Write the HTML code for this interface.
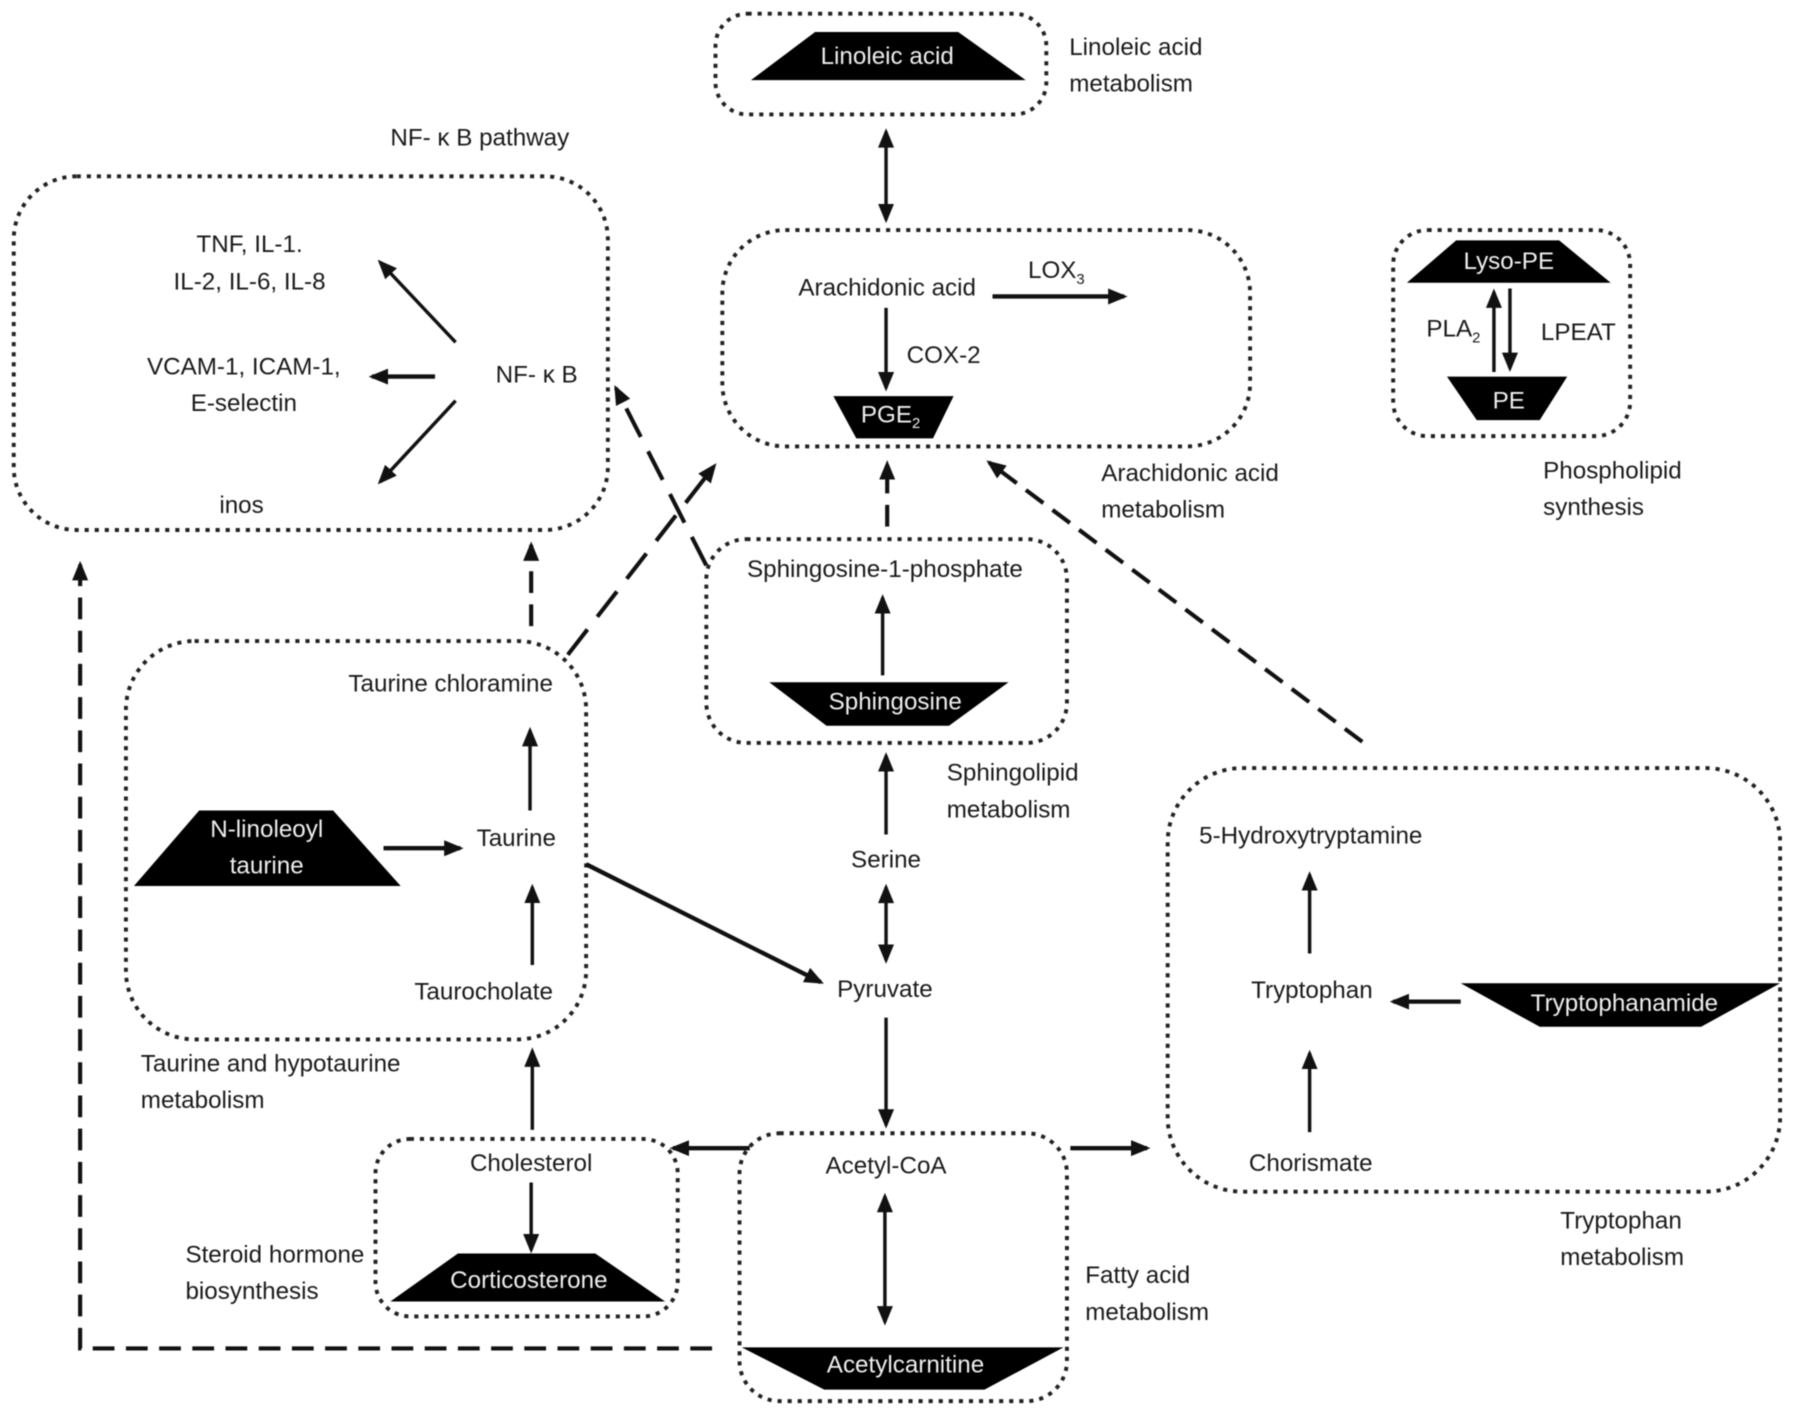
<!DOCTYPE html>
<html><head><meta charset="utf-8"><style>
html,body{margin:0;padding:0;background:#fff}
svg{display:block;width:1795px;height:1416px}
text{font-family:"Liberation Sans",sans-serif;font-size:21.15px;fill:#1a1a1a}
.w{fill:#eee}.m{text-anchor:middle}.e{text-anchor:end}
.b{fill:none;stroke:#222;stroke-width:3.4;stroke-dasharray:3.6 5.2}
.a{fill:none;stroke:#111;stroke-width:3;marker-end:url(#h)}
.t{stroke-width:3.8}
.d{fill:none;stroke:#111;stroke-width:3.6;stroke-dasharray:19 10;marker-end:url(#h)}
.l{stroke-dasharray:28 14}
.x{marker-start:url(#hs)}
polygon.k{fill:#000}
tspan.s{font-size:13px}
</style></head><body>
<svg viewBox="0 0 1568 1237" preserveAspectRatio="none" xmlns="http://www.w3.org/2000/svg">
<defs>
<filter id="bl" x="0" y="0" width="100%" height="100%" color-interpolation-filters="sRGB"><feGaussianBlur stdDeviation="0.55"/></filter>
<marker id="h" markerUnits="userSpaceOnUse" markerWidth="20" markerHeight="16" refX="14" refY="7" orient="auto"><polygon points="0,0 17,7 0,14" fill="#111"/></marker>
<marker id="hs" markerUnits="userSpaceOnUse" markerWidth="20" markerHeight="16" refX="3" refY="7" orient="auto"><polygon points="17,0 0,7 17,14" fill="#111"/></marker>
</defs>
<g filter="url(#bl)">
<rect x="0" y="0" width="1568" height="1237" fill="#fff"/>
<rect class="b" x="625" y="12" width="289" height="88" rx="28"/>
<rect class="b" x="12" y="154" width="519" height="309" rx="55"/>
<rect class="b" x="631" y="201" width="461" height="189" rx="55"/>
<rect class="b" x="1217" y="201" width="207" height="180" rx="30"/>
<rect class="b" x="617" y="471" width="315" height="178" rx="35"/>
<rect class="b" x="110" y="560" width="402" height="348" rx="60"/>
<rect class="b" x="328" y="995" width="264" height="155" rx="30"/>
<rect class="b" x="646" y="990" width="286" height="234" rx="35"/>
<rect class="b" x="1020" y="671" width="535" height="370" rx="65"/>

<polygon class="k" points="656,70 712,28 837,28 896,70"/>
<polygon class="k" points="728,346 833,346 815,383 748,383"/>
<polygon class="k" points="1229,247 1272,210 1362,210 1407,247"/>
<polygon class="k" points="1264,329 1369,329 1345,367 1290,367"/>
<polygon class="k" points="672,596 881,596 829,634 722,634"/>
<polygon class="k" points="117,774 350,774 291,708 174,708"/>
<polygon class="k" points="341,1137 581,1137 520,1095 400,1095"/>
<polygon class="k" points="648,1177 929,1177 860,1214 720,1214"/>
<polygon class="k" points="1276,859 1555,859 1486,897 1345,897"/>

<line class="a x" x1="774" y1="115" x2="774" y2="192"/>
<line class="a t" x1="867" y1="259" x2="982" y2="259"/>
<line class="a" x1="774" y1="269" x2="774" y2="339"/>
<line class="a" x1="398" y1="299" x2="332" y2="229"/>
<line class="a t" x1="380" y1="329" x2="325" y2="329"/>
<line class="a" x1="398" y1="350" x2="332" y2="421"/>
<line class="a" x1="1305" y1="325" x2="1305" y2="255"/>
<line class="a" x1="1319" y1="252" x2="1319" y2="322"/>
<line class="a" x1="771" y1="590" x2="771" y2="522"/>
<line class="a" x1="774" y1="729" x2="774" y2="660"/>
<line class="a x" x1="774" y1="775" x2="774" y2="839"/>
<line class="a" x1="774" y1="889" x2="774" y2="983"/>
<line class="a" x1="463" y1="708" x2="463" y2="638"/>
<line class="a t" x1="335" y1="741" x2="402" y2="741"/>
<line class="a" x1="465" y1="843" x2="465" y2="775"/>
<line class="a t" x1="512" y1="755" x2="717" y2="858"/>
<line class="a" x1="465" y1="987" x2="465" y2="918"/>
<line class="a" x1="464" y1="1033" x2="464" y2="1092"/>
<line class="a t" x1="655" y1="1003" x2="588" y2="1003"/>
<line class="a x" x1="773" y1="1045" x2="773" y2="1155"/>
<line class="a t" x1="935" y1="1003" x2="1002" y2="1003"/>
<line class="a" x1="1144" y1="833" x2="1144" y2="764"/>
<line class="a t" x1="1276" y1="875" x2="1217" y2="875"/>
<line class="a" x1="1144" y1="989" x2="1144" y2="920"/>

<line class="d l" x1="617" y1="494" x2="538" y2="339"/>
<line class="d l" x1="496" y1="572" x2="624" y2="407"/>
<line class="d" x1="464" y1="547" x2="464" y2="476"/>
<line class="d" x1="775" y1="460" x2="775" y2="405"/>
<line class="d" x1="1190" y1="648" x2="864" y2="404"/>
<path class="d" d="M622,1178 L70,1178 L70,493"/>

<text class="w m" x="775" y="56">Linoleic acid</text>
<text x="934" y="48">Linoleic acid</text>
<text x="934" y="80">metabolism</text>
<text x="341" y="127">NF- κ B pathway</text>
<text class="m" x="218" y="220">TNF, IL-1.</text>
<text class="m" x="218" y="253">IL-2, IL-6, IL-8</text>
<text class="m" x="213" y="327">VCAM-1, ICAM-1,</text>
<text class="m" x="213" y="359">E-selectin</text>
<text class="m" x="211" y="448">inos</text>
<text x="433" y="334">NF- κ B</text>
<text class="m" x="775" y="258">Arachidonic acid</text>
<text x="898" y="243">LOX<tspan class="s" dy="5">3</tspan></text>
<text x="792" y="317">COX-2</text>
<text class="w" x="752" y="369">PGE<tspan class="s" dy="5">2</tspan></text>
<text x="962" y="420">Arachidonic acid</text>
<text x="962" y="452">metabolism</text>
<text class="w m" x="1318" y="235">Lyso-PE</text>
<text class="w m" x="1318" y="357">PE</text>
<text x="1246" y="294">PLA<tspan class="s" dy="5">2</tspan></text>
<text x="1346" y="297">LPEAT</text>
<text x="1348" y="418">Phospholipid</text>
<text x="1348" y="450">synthesis</text>
<text class="m" x="773" y="504">Sphingosine-1-phosphate</text>
<text class="w m" x="782" y="620">Sphingosine</text>
<text x="827" y="682">Sphingolipid</text>
<text x="827" y="714">metabolism</text>
<text class="m" x="774" y="758">Serine</text>
<text class="m" x="773" y="871">Pyruvate</text>
<text class="e" x="483" y="604">Taurine chloramine</text>
<text class="w m" x="233" y="731">N-linoleoyl</text>
<text class="w m" x="233" y="763">taurine</text>
<text class="m" x="451" y="739">Taurine</text>
<text class="e" x="483" y="873">Taurocholate</text>
<text x="123" y="936">Taurine and hypotaurine</text>
<text x="123" y="968">metabolism</text>
<text class="m" x="464" y="1023">Cholesterol</text>
<text class="w m" x="462" y="1125">Corticosterone</text>
<text x="162" y="1103">Steroid hormone</text>
<text x="162" y="1135">biosynthesis</text>
<text class="m" x="774" y="1025">Acetyl-CoA</text>
<text class="w m" x="791" y="1199">Acetylcarnitine</text>
<text x="948" y="1121">Fatty acid</text>
<text x="948" y="1153">metabolism</text>
<text class="m" x="1145" y="737">5-Hydroxytryptamine</text>
<text class="m" x="1146" y="872">Tryptophan</text>
<text class="w m" x="1419" y="883">Tryptophanamide</text>
<text class="m" x="1145" y="1023">Chorismate</text>
<text x="1363" y="1073">Tryptophan</text>
<text x="1363" y="1105">metabolism</text>
</g>
</svg>
</body></html>
